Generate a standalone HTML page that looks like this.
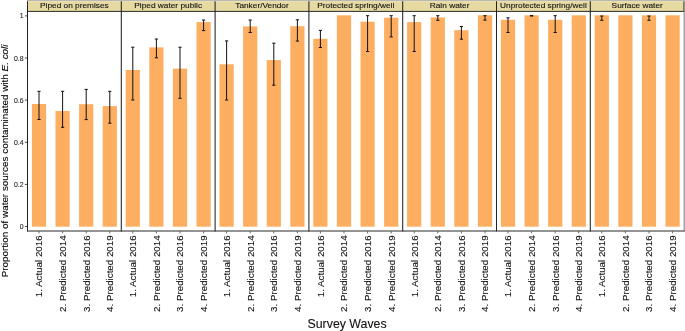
<!DOCTYPE html>
<html><head><meta charset="utf-8"><title>Chart</title>
<style>html,body{margin:0;padding:0;background:#fff;}body{width:685px;height:331px;overflow:hidden;font-family:"Liberation Sans",sans-serif;}</style>
</head><body>
<svg width="685" height="331" viewBox="0 0 685 331" style="display:block;will-change:transform" font-family="Liberation Sans, sans-serif">
<rect width="685" height="331" fill="#fff"/>
<rect x="27" y="0" width="658" height="1.2" fill="#b8b8b4"/>
<rect x="27.50" y="1.2" width="93.80" height="10.2" fill="#E6DAA2"/>
<rect x="121.30" y="1.2" width="93.80" height="10.2" fill="#E6DAA2"/>
<rect x="215.10" y="1.2" width="93.80" height="10.2" fill="#E6DAA2"/>
<rect x="308.90" y="1.2" width="93.80" height="10.2" fill="#E6DAA2"/>
<rect x="402.70" y="1.2" width="93.80" height="10.2" fill="#E6DAA2"/>
<rect x="496.50" y="1.2" width="93.80" height="10.2" fill="#E6DAA2"/>
<rect x="590.30" y="1.2" width="93.80" height="10.2" fill="#E6DAA2"/>
<rect x="31.90" y="104.00" width="14.2" height="122.70" fill="#FDAE61"/>
<rect x="55.50" y="111.00" width="14.2" height="115.70" fill="#FDAE61"/>
<rect x="79.10" y="104.20" width="14.2" height="122.50" fill="#FDAE61"/>
<rect x="102.70" y="106.10" width="14.2" height="120.60" fill="#FDAE61"/>
<rect x="125.70" y="70.00" width="14.2" height="156.70" fill="#FDAE61"/>
<rect x="149.30" y="47.40" width="14.2" height="179.30" fill="#FDAE61"/>
<rect x="172.90" y="68.60" width="14.2" height="158.10" fill="#FDAE61"/>
<rect x="196.50" y="22.10" width="14.2" height="204.60" fill="#FDAE61"/>
<rect x="219.50" y="64.30" width="14.2" height="162.40" fill="#FDAE61"/>
<rect x="243.10" y="26.40" width="14.2" height="200.30" fill="#FDAE61"/>
<rect x="266.70" y="60.10" width="14.2" height="166.60" fill="#FDAE61"/>
<rect x="290.30" y="26.20" width="14.2" height="200.50" fill="#FDAE61"/>
<rect x="313.30" y="38.80" width="14.2" height="187.90" fill="#FDAE61"/>
<rect x="336.90" y="15.30" width="14.2" height="211.40" fill="#FDAE61"/>
<rect x="360.50" y="21.70" width="14.2" height="205.00" fill="#FDAE61"/>
<rect x="384.10" y="17.70" width="14.2" height="209.00" fill="#FDAE61"/>
<rect x="407.10" y="22.10" width="14.2" height="204.60" fill="#FDAE61"/>
<rect x="430.70" y="17.40" width="14.2" height="209.30" fill="#FDAE61"/>
<rect x="454.30" y="30.20" width="14.2" height="196.50" fill="#FDAE61"/>
<rect x="477.90" y="15.30" width="14.2" height="211.40" fill="#FDAE61"/>
<rect x="500.90" y="19.80" width="14.2" height="206.90" fill="#FDAE61"/>
<rect x="524.50" y="15.30" width="14.2" height="211.40" fill="#FDAE61"/>
<rect x="548.10" y="19.80" width="14.2" height="206.90" fill="#FDAE61"/>
<rect x="571.70" y="15.30" width="14.2" height="211.40" fill="#FDAE61"/>
<rect x="594.70" y="15.30" width="14.2" height="211.40" fill="#FDAE61"/>
<rect x="618.30" y="15.30" width="14.2" height="211.40" fill="#FDAE61"/>
<rect x="641.90" y="15.30" width="14.2" height="211.40" fill="#FDAE61"/>
<rect x="665.50" y="15.30" width="14.2" height="211.40" fill="#FDAE61"/>
<path d="M37.40 91.30H40.60M39.00 91.30V119.50M37.40 119.50H40.60" stroke="#111" stroke-width="1.0" fill="none"/>
<path d="M61.00 91.30H64.20M62.60 91.30V127.30M61.00 127.30H64.20" stroke="#111" stroke-width="1.0" fill="none"/>
<path d="M84.60 89.40H87.80M86.20 89.40V119.60M84.60 119.60H87.80" stroke="#111" stroke-width="1.0" fill="none"/>
<path d="M108.20 91.30H111.40M109.80 91.30V123.20M108.20 123.20H111.40" stroke="#111" stroke-width="1.0" fill="none"/>
<path d="M131.20 47.20H134.40M132.80 47.20V100.00M131.20 100.00H134.40" stroke="#111" stroke-width="1.0" fill="none"/>
<path d="M154.80 39.00H158.00M156.40 39.00V57.80M154.80 57.80H158.00" stroke="#111" stroke-width="1.0" fill="none"/>
<path d="M178.40 47.20H181.60M180.00 47.20V98.30M178.40 98.30H181.60" stroke="#111" stroke-width="1.0" fill="none"/>
<path d="M202.00 20.00H205.20M203.60 20.00V30.60M202.00 30.60H205.20" stroke="#111" stroke-width="1.0" fill="none"/>
<path d="M225.00 40.90H228.20M226.60 40.90V100.00M225.00 100.00H228.20" stroke="#111" stroke-width="1.0" fill="none"/>
<path d="M248.60 20.00H251.80M250.20 20.00V32.50M248.60 32.50H251.80" stroke="#111" stroke-width="1.0" fill="none"/>
<path d="M272.20 43.20H275.40M273.80 43.20V85.20M272.20 85.20H275.40" stroke="#111" stroke-width="1.0" fill="none"/>
<path d="M295.80 19.80H299.00M297.40 19.80V41.10M295.80 41.10H299.00" stroke="#111" stroke-width="1.0" fill="none"/>
<path d="M318.80 30.40H322.00M320.40 30.40V47.50M318.80 47.50H322.00" stroke="#111" stroke-width="1.0" fill="none"/>
<path d="M366.00 15.70H369.20M367.60 15.70V51.50M366.00 51.50H369.20" stroke="#111" stroke-width="1.0" fill="none"/>
<path d="M389.60 15.70H392.80M391.20 15.70V36.90M389.60 36.90H392.80" stroke="#111" stroke-width="1.0" fill="none"/>
<path d="M412.60 15.70H415.80M414.20 15.70V51.50M412.60 51.50H415.80" stroke="#111" stroke-width="1.0" fill="none"/>
<path d="M436.20 15.70H439.40M437.80 15.70V20.30M436.20 20.30H439.40" stroke="#111" stroke-width="1.0" fill="none"/>
<path d="M459.80 26.50H463.00M461.40 26.50V39.20M459.80 39.20H463.00" stroke="#111" stroke-width="1.0" fill="none"/>
<path d="M483.40 15.70H486.60M485.00 15.70V20.10M483.40 20.10H486.60" stroke="#111" stroke-width="1.0" fill="none"/>
<path d="M506.40 17.80H509.60M508.00 17.80V32.50M506.40 32.50H509.60" stroke="#111" stroke-width="1.0" fill="none"/>
<path d="M530.00 15.60H533.20M531.60 15.60V16.00M530.00 16.00H533.20" stroke="#111" stroke-width="1.0" fill="none"/>
<path d="M553.60 15.70H556.80M555.20 15.70V32.50M553.60 32.50H556.80" stroke="#111" stroke-width="1.0" fill="none"/>
<path d="M600.20 16.00H603.40M601.80 16.00V20.30M600.20 20.30H603.40" stroke="#111" stroke-width="1.0" fill="none"/>
<path d="M647.40 16.00H650.60M649.00 16.00V20.30M647.40 20.30H650.60" stroke="#111" stroke-width="1.0" fill="none"/>
<path d="M27.50 11.4H684.2" stroke="#2b2b2b" stroke-width="1" fill="none"/>
<path d="M27.50 1.2V231.4" stroke="#222" stroke-width="1.05" fill="none"/>
<path d="M121.30 1.2V231.4" stroke="#222" stroke-width="1.05" fill="none"/>
<path d="M215.10 1.2V231.4" stroke="#222" stroke-width="1.05" fill="none"/>
<path d="M308.90 1.2V231.4" stroke="#222" stroke-width="1.05" fill="none"/>
<path d="M402.70 1.2V231.4" stroke="#222" stroke-width="1.05" fill="none"/>
<path d="M496.50 1.2V231.4" stroke="#222" stroke-width="1.05" fill="none"/>
<path d="M590.30 1.2V231.4" stroke="#222" stroke-width="1.05" fill="none"/>
<path d="M684.2 11.5V231.6" stroke="#8c8c8c" stroke-width="1.2" fill="none"/>
<path d="M684.0 1.2V11.8" stroke="#4a4736" stroke-width="1.2" fill="none"/>
<path d="M27.10 231H684.5" stroke="#2b2b2b" stroke-width="1" fill="none"/>
<text transform="translate(74.40 8.1) scale(1.17 1)" font-size="7.1" text-anchor="middle" fill="#111" stroke="#111" stroke-width="0.1">Piped on premises</text>
<text transform="translate(168.20 8.1) scale(1.17 1)" font-size="7.1" text-anchor="middle" fill="#111" stroke="#111" stroke-width="0.1">Piped water public</text>
<text transform="translate(262.00 8.1) scale(1.17 1)" font-size="7.1" text-anchor="middle" fill="#111" stroke="#111" stroke-width="0.1">Tanker/Vendor</text>
<text transform="translate(355.80 8.1) scale(1.17 1)" font-size="7.1" text-anchor="middle" fill="#111" stroke="#111" stroke-width="0.1">Protected spring/well</text>
<text transform="translate(449.60 8.1) scale(1.17 1)" font-size="7.1" text-anchor="middle" fill="#111" stroke="#111" stroke-width="0.1">Rain water</text>
<text transform="translate(543.40 8.1) scale(1.17 1)" font-size="7.1" text-anchor="middle" fill="#111" stroke="#111" stroke-width="0.1">Unprotected spring/well</text>
<text transform="translate(637.20 8.1) scale(1.17 1)" font-size="7.1" text-anchor="middle" fill="#111" stroke="#111" stroke-width="0.1">Surface water</text>
<path d="M24.9 226.50H27.2" stroke="#333" stroke-width="0.9"/>
<text x="23.5" y="229.05" font-size="6.9" text-anchor="end" fill="#222" stroke="#222" stroke-width="0.1">0</text>
<path d="M24.9 184.38H27.2" stroke="#333" stroke-width="0.9"/>
<text x="23.5" y="186.93" font-size="6.9" text-anchor="end" fill="#222" stroke="#222" stroke-width="0.1">0.2</text>
<path d="M24.9 142.26H27.2" stroke="#333" stroke-width="0.9"/>
<text x="23.5" y="144.81" font-size="6.9" text-anchor="end" fill="#222" stroke="#222" stroke-width="0.1">0.4</text>
<path d="M24.9 100.14H27.2" stroke="#333" stroke-width="0.9"/>
<text x="23.5" y="102.69" font-size="6.9" text-anchor="end" fill="#222" stroke="#222" stroke-width="0.1">0.6</text>
<path d="M24.9 58.02H27.2" stroke="#333" stroke-width="0.9"/>
<text x="23.5" y="60.57" font-size="6.9" text-anchor="end" fill="#222" stroke="#222" stroke-width="0.1">0.8</text>
<path d="M24.9 15.90H27.2" stroke="#333" stroke-width="0.9"/>
<text x="23.5" y="18.45" font-size="6.9" text-anchor="end" fill="#222" stroke="#222" stroke-width="0.1">1</text>
<path d="M39.00 231.3V233.4" stroke="#444" stroke-width="0.8"/>
<text transform="translate(42.45 235.35) rotate(-90)" font-size="9.78" text-anchor="end" fill="#111" stroke="#111" stroke-width="0.1">1. Actual 2016</text>
<path d="M62.60 231.3V233.4" stroke="#444" stroke-width="0.8"/>
<text transform="translate(66.05 235.35) rotate(-90)" font-size="9.78" text-anchor="end" fill="#111" stroke="#111" stroke-width="0.1">2. Predicted 2014</text>
<path d="M86.20 231.3V233.4" stroke="#444" stroke-width="0.8"/>
<text transform="translate(89.65 235.35) rotate(-90)" font-size="9.78" text-anchor="end" fill="#111" stroke="#111" stroke-width="0.1">3. Predicted 2016</text>
<path d="M109.80 231.3V233.4" stroke="#444" stroke-width="0.8"/>
<text transform="translate(113.25 235.35) rotate(-90)" font-size="9.78" text-anchor="end" fill="#111" stroke="#111" stroke-width="0.1">4. Predicted 2019</text>
<path d="M132.80 231.3V233.4" stroke="#444" stroke-width="0.8"/>
<text transform="translate(136.25 235.35) rotate(-90)" font-size="9.78" text-anchor="end" fill="#111" stroke="#111" stroke-width="0.1">1. Actual 2016</text>
<path d="M156.40 231.3V233.4" stroke="#444" stroke-width="0.8"/>
<text transform="translate(159.85 235.35) rotate(-90)" font-size="9.78" text-anchor="end" fill="#111" stroke="#111" stroke-width="0.1">2. Predicted 2014</text>
<path d="M180.00 231.3V233.4" stroke="#444" stroke-width="0.8"/>
<text transform="translate(183.45 235.35) rotate(-90)" font-size="9.78" text-anchor="end" fill="#111" stroke="#111" stroke-width="0.1">3. Predicted 2016</text>
<path d="M203.60 231.3V233.4" stroke="#444" stroke-width="0.8"/>
<text transform="translate(207.05 235.35) rotate(-90)" font-size="9.78" text-anchor="end" fill="#111" stroke="#111" stroke-width="0.1">4. Predicted 2019</text>
<path d="M226.60 231.3V233.4" stroke="#444" stroke-width="0.8"/>
<text transform="translate(230.05 235.35) rotate(-90)" font-size="9.78" text-anchor="end" fill="#111" stroke="#111" stroke-width="0.1">1. Actual 2016</text>
<path d="M250.20 231.3V233.4" stroke="#444" stroke-width="0.8"/>
<text transform="translate(253.65 235.35) rotate(-90)" font-size="9.78" text-anchor="end" fill="#111" stroke="#111" stroke-width="0.1">2. Predicted 2014</text>
<path d="M273.80 231.3V233.4" stroke="#444" stroke-width="0.8"/>
<text transform="translate(277.25 235.35) rotate(-90)" font-size="9.78" text-anchor="end" fill="#111" stroke="#111" stroke-width="0.1">3. Predicted 2016</text>
<path d="M297.40 231.3V233.4" stroke="#444" stroke-width="0.8"/>
<text transform="translate(300.85 235.35) rotate(-90)" font-size="9.78" text-anchor="end" fill="#111" stroke="#111" stroke-width="0.1">4. Predicted 2019</text>
<path d="M320.40 231.3V233.4" stroke="#444" stroke-width="0.8"/>
<text transform="translate(323.85 235.35) rotate(-90)" font-size="9.78" text-anchor="end" fill="#111" stroke="#111" stroke-width="0.1">1. Actual 2016</text>
<path d="M344.00 231.3V233.4" stroke="#444" stroke-width="0.8"/>
<text transform="translate(347.45 235.35) rotate(-90)" font-size="9.78" text-anchor="end" fill="#111" stroke="#111" stroke-width="0.1">2. Predicted 2014</text>
<path d="M367.60 231.3V233.4" stroke="#444" stroke-width="0.8"/>
<text transform="translate(371.05 235.35) rotate(-90)" font-size="9.78" text-anchor="end" fill="#111" stroke="#111" stroke-width="0.1">3. Predicted 2016</text>
<path d="M391.20 231.3V233.4" stroke="#444" stroke-width="0.8"/>
<text transform="translate(394.65 235.35) rotate(-90)" font-size="9.78" text-anchor="end" fill="#111" stroke="#111" stroke-width="0.1">4. Predicted 2019</text>
<path d="M414.20 231.3V233.4" stroke="#444" stroke-width="0.8"/>
<text transform="translate(417.65 235.35) rotate(-90)" font-size="9.78" text-anchor="end" fill="#111" stroke="#111" stroke-width="0.1">1. Actual 2016</text>
<path d="M437.80 231.3V233.4" stroke="#444" stroke-width="0.8"/>
<text transform="translate(441.25 235.35) rotate(-90)" font-size="9.78" text-anchor="end" fill="#111" stroke="#111" stroke-width="0.1">2. Predicted 2014</text>
<path d="M461.40 231.3V233.4" stroke="#444" stroke-width="0.8"/>
<text transform="translate(464.85 235.35) rotate(-90)" font-size="9.78" text-anchor="end" fill="#111" stroke="#111" stroke-width="0.1">3. Predicted 2016</text>
<path d="M485.00 231.3V233.4" stroke="#444" stroke-width="0.8"/>
<text transform="translate(488.45 235.35) rotate(-90)" font-size="9.78" text-anchor="end" fill="#111" stroke="#111" stroke-width="0.1">4. Predicted 2019</text>
<path d="M508.00 231.3V233.4" stroke="#444" stroke-width="0.8"/>
<text transform="translate(511.45 235.35) rotate(-90)" font-size="9.78" text-anchor="end" fill="#111" stroke="#111" stroke-width="0.1">1. Actual 2016</text>
<path d="M531.60 231.3V233.4" stroke="#444" stroke-width="0.8"/>
<text transform="translate(535.05 235.35) rotate(-90)" font-size="9.78" text-anchor="end" fill="#111" stroke="#111" stroke-width="0.1">2. Predicted 2014</text>
<path d="M555.20 231.3V233.4" stroke="#444" stroke-width="0.8"/>
<text transform="translate(558.65 235.35) rotate(-90)" font-size="9.78" text-anchor="end" fill="#111" stroke="#111" stroke-width="0.1">3. Predicted 2016</text>
<path d="M578.80 231.3V233.4" stroke="#444" stroke-width="0.8"/>
<text transform="translate(582.25 235.35) rotate(-90)" font-size="9.78" text-anchor="end" fill="#111" stroke="#111" stroke-width="0.1">4. Predicted 2019</text>
<path d="M601.80 231.3V233.4" stroke="#444" stroke-width="0.8"/>
<text transform="translate(605.25 235.35) rotate(-90)" font-size="9.78" text-anchor="end" fill="#111" stroke="#111" stroke-width="0.1">1. Actual 2016</text>
<path d="M625.40 231.3V233.4" stroke="#444" stroke-width="0.8"/>
<text transform="translate(628.85 235.35) rotate(-90)" font-size="9.78" text-anchor="end" fill="#111" stroke="#111" stroke-width="0.1">2. Predicted 2014</text>
<path d="M649.00 231.3V233.4" stroke="#444" stroke-width="0.8"/>
<text transform="translate(652.45 235.35) rotate(-90)" font-size="9.78" text-anchor="end" fill="#111" stroke="#111" stroke-width="0.1">3. Predicted 2016</text>
<path d="M672.60 231.3V233.4" stroke="#444" stroke-width="0.8"/>
<text transform="translate(676.05 235.35) rotate(-90)" font-size="9.78" text-anchor="end" fill="#111" stroke="#111" stroke-width="0.1">4. Predicted 2019</text>
<text transform="translate(7.6 160.9) rotate(-90)" font-size="9.9" text-anchor="middle" fill="#000" stroke="#000" stroke-width="0.1">Proportion of water sources contaminated with <tspan font-style="italic">E. coli</tspan></text>
<text transform="translate(347.05 328) scale(0.972 1)" font-size="12.7" text-anchor="middle" fill="#111" stroke="#111" stroke-width="0.1">Survey Waves</text>
</svg>
</body></html>
